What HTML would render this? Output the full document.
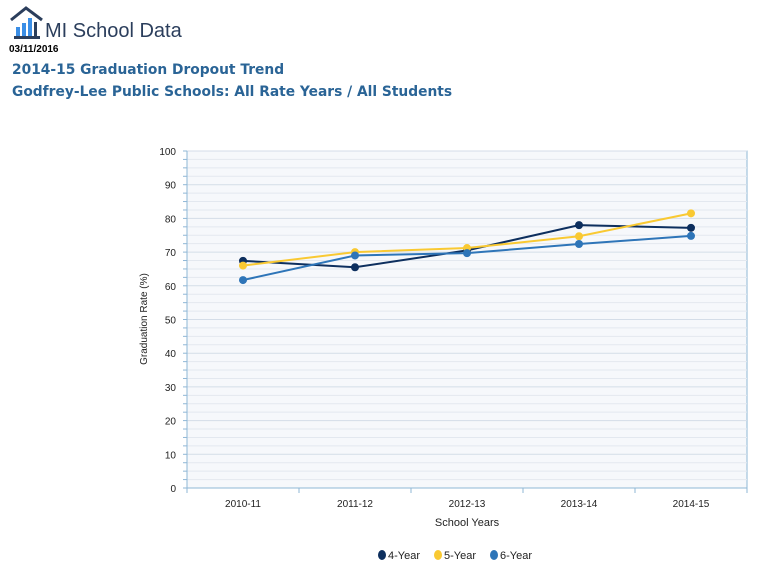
<!DOCTYPE html>
<html><head><meta charset="utf-8"><style>
body{margin:0;width:769px;height:574px;background:#fff;overflow:hidden;font-family:"Liberation Sans",Verdana,sans-serif;position:relative}
.t{position:absolute;white-space:nowrap}
</style></head><body>
<div class="t" style="left:8px;top:6px">
<svg width="40" height="34" viewBox="0 0 40 34"><path d="M3 14 L18 2 L34 14" fill="none" stroke="#2b3e5c" stroke-width="3"/><rect x="6" y="30" width="26" height="3" fill="#2b3e5c"/><rect x="8" y="21" width="4" height="9" fill="#3a8ee6"/><rect x="14" y="17" width="4" height="13" fill="#3a8ee6"/><rect x="20" y="12" width="4" height="18" fill="#3a8ee6"/><rect x="26" y="16" width="3" height="14" fill="#2b3e5c"/></svg></div>
<div class="t" style="left:45px;top:20px;font-size:20px;color:#2b3e5c">MI School Data</div>
<div class="t" style="left:9px;top:44px;font-size:10px;font-weight:bold;color:#000">03/11/2016</div>
<div class="t" style="left:12px;top:62px;font-size:13.8px;font-family:'DejaVu Sans',sans-serif;font-weight:bold;color:#2a6496">2014-15 Graduation Dropout Trend</div>
<div class="t" style="left:12px;top:84px;font-size:13.8px;font-family:'DejaVu Sans',sans-serif;font-weight:bold;color:#2a6496">Godfrey-Lee Public Schools: All Rate Years / All Students</div>
<svg id="c" width="769" height="574" style="position:absolute;left:0;top:0" font-family="Liberation Sans, sans-serif"></svg>
<script>
const categories=["2010-11","2011-12","2012-13","2013-14","2014-15"];
const series4=[67.4,65.5,70.5,78.0,77.2];
const series5=[66.0,70.0,71.2,74.7,81.5];
const series6=[61.7,69.0,69.7,72.4,74.8];
const yTicks=[0,10,20,30,40,50,60,70,80,90,100];
const seriesNames=["4-Year","5-Year","6-Year"];
const colors=["#0d2f5e","#f9c932","#2e75b8"];
const L=187,R=747,T=151,B=488;
const ns="http://www.w3.org/2000/svg";
const svg=document.getElementById('c');
function y(v){return B-(v/100)*(B-T);}
function x(i){return L+(i+0.5)*(R-L)/categories.length;}
function mk(t,a,p){const e=document.createElementNS(ns,t);for(const k in a)e.setAttribute(k,a[k]);(p||svg).appendChild(e);return e;}
const bg=mk('rect',{x:L,y:T,width:R-L,height:B-T,fill:'#f6f8fb',stroke:'#8fb7d6'});


for(let v=0;v<=100;v+=2.5){const ln=mk('line',{x1:L,x2:R,y1:y(v),y2:y(v),stroke:v%10===0?'#d4dde8':'#e3e8ef','stroke-width':1});


mk('line',{x1:L-4,x2:L,y1:y(v),y2:y(v),stroke:'#8fb7d6'});}
yTicks.forEach(v=>{const t=mk('text',{x:176,y:y(v)+4,'text-anchor':'end','font-size':10,fill:'#222'});t.textContent=v;

});
mk('line',{x1:L,x2:L,y1:T,y2:B,stroke:'#8fb7d6'});
mk('line',{x1:L,x2:R,y1:B,y2:B,stroke:'#8fb7d6'});
for(let i=0;i<=categories.length;i++){const xx=L+i*(R-L)/categories.length;mk('line',{x1:xx,x2:xx,y1:B,y2:B+5,stroke:'#8fb7d6'});}
categories.forEach((c,i)=>{const t=mk('text',{x:x(i),y:507,'text-anchor':'middle','font-size':10,fill:'#222'});t.textContent=c;

});
const xt=mk('text',{x:467,y:526,'text-anchor':'middle','font-size':11,fill:'#222'});xt.textContent='School Years';


const yt=mk('text',{x:0,y:0,'text-anchor':'middle','font-size':10,fill:'#222',transform:'translate(147,319) rotate(-90)'});yt.textContent='Graduation Rate (%)';


[series4,series5,series6].forEach((s,k)=>{
const pl=mk('polyline',{points:s.map((v,i)=>x(i)+','+y(v)).join(' '),fill:'none',stroke:colors[k],'stroke-width':2});


s.forEach((v,i)=>{const c=mk('circle',{cx:x(i),cy:y(v),r:4,fill:colors[k]});

});
});
const lx=[382,438,494];
seriesNames.forEach((n,k)=>{const g=mk('g',{});


mk('ellipse',{cx:lx[k],cy:555,rx:4,ry:5,fill:colors[k]},g);
const t=mk('text',{x:lx[k]+6,y:559,'font-size':11,fill:'#222'},g);t.textContent=n;});
</script>
</body></html>
